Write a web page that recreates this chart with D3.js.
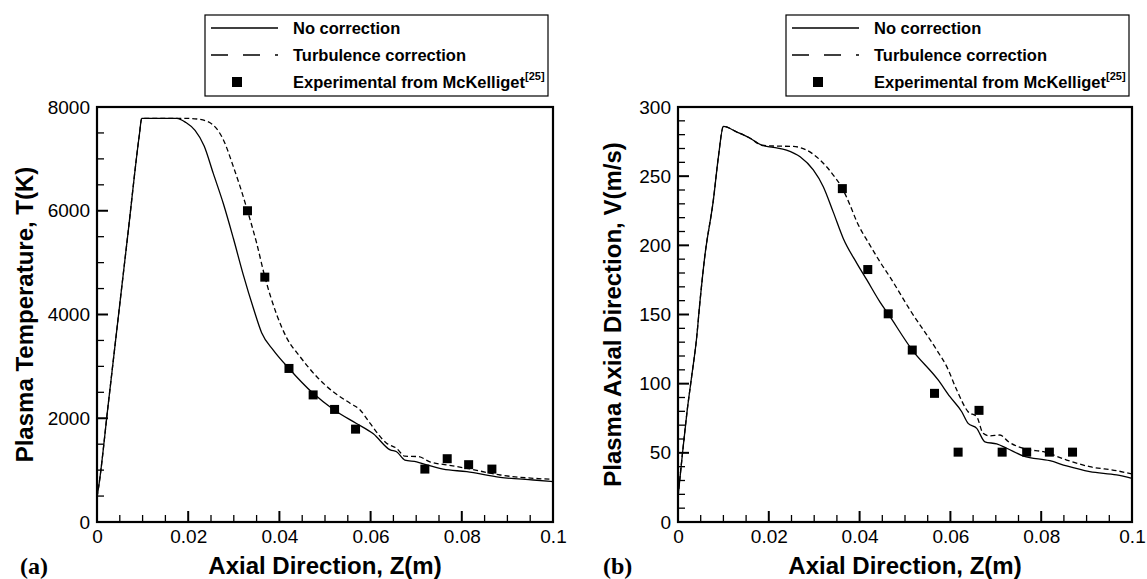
<!DOCTYPE html>
<html>
<head>
<meta charset="utf-8">
<script src="https://cdnjs.cloudflare.com/ajax/libs/d3/7.8.5/d3.min.js"></script>
<style>
  body { margin: 0; background: #fff; }
  svg { display: block; font-family: "Liberation Sans", Arial, sans-serif; }
  .tick text { font-size: 19px; fill: #000; }
</style>
</head>
<body>
<div id="canvas"></div>
<script>
// panel (a): temperature along the axis
var aNoCorrZ = [0, 0.0004, 0.0024, 0.0043, 0.0068, 0.0093, 0.0098, 0.0175, 0.0195, 0.0215, 0.0235, 0.0255, 0.0277, 0.0299, 0.0321, 0.0343, 0.0361, 0.0387, 0.0421, 0.0474, 0.0520, 0.0569, 0.0606, 0.0643, 0.0657, 0.0675, 0.0701, 0.0723, 0.0759, 0.0811, 0.0884, 0.0957, 0.1];
var aNoCorrT = [480, 700, 2220, 3670, 5570, 7470, 7780, 7780, 7700, 7550, 7250, 6720, 6140, 5470, 4760, 4120, 3650, 3310, 2960, 2480, 2160, 1900, 1700, 1390, 1355, 1195, 1160, 1100, 1020, 970, 860, 810, 780];
var aTurbZ = [0, 0.0004, 0.0024, 0.0043, 0.0068, 0.0093, 0.0098, 0.0200, 0.0226, 0.0255, 0.0277, 0.0299, 0.0314, 0.0330, 0.0350, 0.0368, 0.0394, 0.0416, 0.0445, 0.0482, 0.0518, 0.0555, 0.0577, 0.0599, 0.0635, 0.0657, 0.0675, 0.0705, 0.0730, 0.0767, 0.0811, 0.0884, 0.0957, 0.1];
var aTurbT = [480, 700, 2220, 3670, 5570, 7470, 7780, 7780, 7760, 7650, 7370, 6850, 6460, 6000, 5380, 4730, 4000, 3550, 3190, 2800, 2510, 2290, 2160, 1900, 1520, 1420, 1270, 1260, 1160, 1100, 1035, 906, 842, 823];
var aExpZ = [0.0330, 0.0368, 0.0421, 0.0474, 0.0521, 0.0567, 0.0719, 0.0768, 0.0815, 0.0866];
var aExpT = [6000, 4720, 2960, 2450, 2170, 1790, 1020, 1220, 1105, 1020];

// panel (b): axial velocity
var bNoCorrZ = [0, 0.001, 0.002, 0.003, 0.0041, 0.0048, 0.0059, 0.0078, 0.0089, 0.0100, 0.0129, 0.0159, 0.0184, 0.0210, 0.0239, 0.0269, 0.0298, 0.0320, 0.0342, 0.0364, 0.0394, 0.0416, 0.0445, 0.0463, 0.0516, 0.0573, 0.0599, 0.0625, 0.0639, 0.0658, 0.0676, 0.0702, 0.0724, 0.0761, 0.0819, 0.0856, 0.0907, 0.0966, 0.1];
var bNoCorrV = [18, 50, 80, 105, 133, 158, 192, 233, 264, 286, 282, 277.4, 272.5, 270.8, 268.9, 264, 254.5, 242.4, 224, 205, 187, 175, 159, 150.4, 124.3, 102.7, 90.6, 79.7, 71.3, 67.7, 58, 56.4, 53.3, 47.7, 44.3, 40.5, 36.4, 34, 31.6];
var bTurbZ = [0, 0.001, 0.002, 0.003, 0.0041, 0.0048, 0.0059, 0.0078, 0.0089, 0.0100, 0.0129, 0.0159, 0.0184, 0.0210, 0.0254, 0.0283, 0.0313, 0.0342, 0.0362, 0.0379, 0.0394, 0.0423, 0.0445, 0.0467, 0.0511, 0.0570, 0.0592, 0.0614, 0.0639, 0.0658, 0.0672, 0.0687, 0.0709, 0.0728, 0.0768, 0.0805, 0.0856, 0.0907, 0.0966, 0.1];
var bTurbV = [18, 50, 80, 105, 133, 158, 192, 233, 264, 286, 282, 277.4, 272.5, 271.8, 271.5, 268.9, 261.7, 250.8, 241.2, 229, 217, 200, 188, 177, 153.3, 124.3, 112.3, 95.4, 79.7, 76.1, 64.1, 62.2, 62.9, 58, 52.6, 50.8, 44.8, 40, 37.1, 34.7];
var bExpZ = [0.0362, 0.0418, 0.0463, 0.0516, 0.0565, 0.0617, 0.0663, 0.0714, 0.0768, 0.0818, 0.0869];
var bExpV = [241, 182.5, 150.5, 124.3, 93, 50.5, 80.7, 50.5, 50.5, 50.5, 50.5];

var xTicks = [0, 0.02, 0.04, 0.06, 0.08, 0.1];
var legendLabels = ['No correction', 'Turbulence correction', 'Experimental from McKelliget'];
var legendRef = '[25]';

var W = 1147, H = 579;
var svg = d3.select('#canvas').append('svg')
  .attr('width', W).attr('height', H);

function zip(xs, ys){
  return xs.map(function(x, i){ return [x, ys[i]]; });
}

function drawPanel(p){
  var x = d3.scaleLinear().domain([0, 0.1]).range([p.left, p.right]);
  var y = d3.scaleLinear().domain([0, p.ymax]).range([522, 107]);
  var g = svg.append('g');

  // tick labels from the axes, tick marks drawn inward from the same scales
  g.append('g').attr('transform', 'translate(0,522)')
    .call(d3.axisBottom(x).tickValues(xTicks).tickSize(0).tickPadding(8)
      .tickFormat(function(d){ return d === 0 ? '0' : String(+d.toFixed(2)); }))
    .call(function(a){ a.select('.domain').remove(); a.selectAll('text').attr('font-family', null); });
  g.append('g').attr('transform', 'translate(' + p.left + ',0)')
    .call(d3.axisLeft(y).tickValues(d3.range(0, p.ymax + 1, p.major)).tickSize(0).tickPadding(7)
      .tickFormat(d3.format('d')))
    .call(function(a){ a.select('.domain').remove(); a.selectAll('text').attr('font-family', null); });

  var xMinor = d3.range(0, 0.1001, 0.005);
  g.append('g').selectAll('line').data(xMinor).enter().append('line')
    .attr('x1', function(d){ return x(d); }).attr('x2', function(d){ return x(d); })
    .attr('y1', 522)
    .attr('y2', function(d, i){ return i % 4 === 0 ? 511 : 515; })
    .attr('stroke', '#000')
    .attr('stroke-width', function(d, i){ return i % 4 === 0 ? 2 : 1.3; });
  var yMinor = d3.range(0, p.ymax + 1, p.minor);
  var per = p.major / p.minor;
  g.append('g').selectAll('line').data(yMinor).enter().append('line')
    .attr('y1', function(d){ return y(d); }).attr('y2', function(d){ return y(d); })
    .attr('x1', p.left)
    .attr('x2', function(d, i){ return i % per === 0 ? p.left + 11 : p.left + 7; })
    .attr('stroke', '#000')
    .attr('stroke-width', function(d, i){ return i % per === 0 ? 2 : 1.3; });

  var line = d3.line()
    .x(function(d){ return x(d[0]); })
    .y(function(d){ return y(d[1]); })
    .curve(d3.curveMonotoneX);

  g.append('path').datum(p.turb).attr('d', line)
    .attr('fill', 'none').attr('stroke', '#000').attr('stroke-width', 1.3)
    .attr('stroke-dasharray', '5,3');
  g.append('path').datum(p.noCorr).attr('d', line)
    .attr('fill', 'none').attr('stroke', '#000').attr('stroke-width', 1.3);

  g.selectAll('rect.pt').data(p.exp).enter().append('rect')
    .attr('class', 'pt')
    .attr('x', function(d){ return x(d[0]) - 4.5; })
    .attr('y', function(d){ return y(d[1]) - 4.5; })
    .attr('width', 9).attr('height', 9)
    .attr('fill', '#000');

  // frame
  g.append('rect')
    .attr('x', p.left).attr('y', 107)
    .attr('width', p.right - p.left).attr('height', 415)
    .attr('fill', 'none').attr('stroke', '#000').attr('stroke-width', 2.2);

  // axis titles
  g.append('text')
    .attr('x', (p.left + p.right) / 2).attr('y', 574)
    .attr('text-anchor', 'middle')
    .attr('font-size', 24).attr('font-weight', 'bold')
    .text('Axial Direction, Z(m)');
  g.append('text')
    .attr('transform', 'translate(' + p.ytitleX + ',' + 314.5 + ') rotate(-90)')
    .attr('text-anchor', 'middle')
    .attr('font-size', 24).attr('font-weight', 'bold')
    .text(p.ytitle);
  g.append('text')
    .attr('x', p.tagX).attr('y', 574)
    .attr('font-family', '"Liberation Serif", "Times New Roman", serif')
    .attr('font-size', 24).attr('font-weight', 'bold')
    .text(p.tag);

  // legend
  var lx = p.left + 108, ly = 15;
  var lg = g.append('g');
  lg.append('rect').attr('x', lx).attr('y', ly).attr('width', 343).attr('height', 81)
    .attr('fill', '#fff').attr('stroke', '#000').attr('stroke-width', 1.2);
  var rows = [28, 55, 82];
  lg.append('line').attr('x1', lx + 6).attr('x2', lx + 73).attr('y1', rows[0]).attr('y2', rows[0])
    .attr('stroke', '#000').attr('stroke-width', 1.4);
  lg.append('line').attr('x1', lx + 6).attr('x2', lx + 73).attr('y1', rows[1]).attr('y2', rows[1])
    .attr('stroke', '#000').attr('stroke-width', 1.4).attr('stroke-dasharray', '17,15');
  lg.append('rect').attr('x', lx + 32 - 5).attr('y', rows[2] - 5).attr('width', 10).attr('height', 10)
    .attr('fill', '#000');
  legendLabels.forEach(function(t, i){
    var tx = lg.append('text').attr('x', lx + 88).attr('y', rows[i] + 6)
      .attr('font-size', 16.5).attr('font-weight', 'bold').text(t);
    if(i === 2){
      tx.append('tspan').attr('dy', -8).attr('font-size', 11).text(legendRef);
    }
  });
}

drawPanel({
  left: 97, right: 553, ymax: 8000, major: 2000, minor: 500,
  noCorr: zip(aNoCorrZ, aNoCorrT), turb: zip(aTurbZ, aTurbT), exp: zip(aExpZ, aExpT),
  ytitle: 'Plasma Temperature, T(K)', ytitleX: 33, tag: '(a)', tagX: 20
});
drawPanel({
  left: 678, right: 1132, ymax: 300, major: 50, minor: 10,
  noCorr: zip(bNoCorrZ, bNoCorrV), turb: zip(bTurbZ, bTurbV), exp: zip(bExpZ, bExpV),
  ytitle: 'Plasma Axial Direction, V(m/s)', ytitleX: 621, tag: '(b)', tagX: 603
});
</script>
</body>
</html>
